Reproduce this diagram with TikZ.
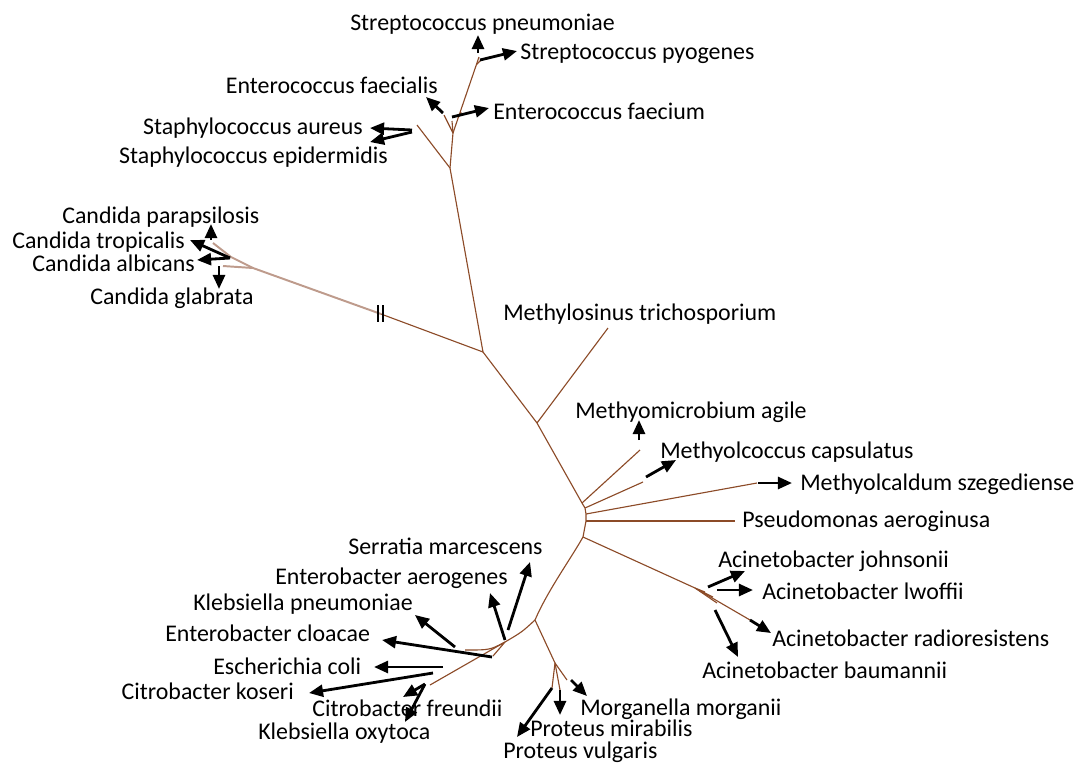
\documentclass[tikz,border=0pt]{standalone}
\usepackage{fontspec}
\setmainfont{Carlito}
\usetikzlibrary{calc,positioning,arrows.meta}
\definecolor{treebrown}{RGB}{140,75,40}
\definecolor{fadebrown}{RGB}{190,155,140}
\tikzset{
	>={Triangle[length=10pt,width=8.5pt]},
	branch/.style={draw=treebrown, line width=0.8pt},
	faded/.style={draw=fadebrown, line width=1.4pt},
	pointer/.style={->, line width=2pt, black},
	lbl/.style={inner sep=0pt, font=\fontsize{17}{20}\selectfont, text height=9pt, text depth=4.5pt, yshift=-2.4pt},
}

\begin{document}
\begin{tikzpicture}[x=0.025cm, y=-0.025cm]
	\useasboundingbox (0,0) rectangle (1080,765);

	% tree points
	\coordinate (sA) at (483,352);
	\coordinate (sB) at (450,168);
	\coordinate (sC) at (453,133);
	\coordinate (tSau) at (417,125);
	\coordinate (tEfs) at (444,115);
	\coordinate (tEfm) at (452,121);
	\coordinate (tEfm2) at (461,112);
	\coordinate (tStr) at (479,57);
	\coordinate (tStr2) at (482,59);
	\coordinate (cBr) at (381,314);
	\coordinate (cN) at (253,268);
	\coordinate (cN2) at (231,257);
	\coordinate (tCpa) at (213,243);
	\coordinate (tCgl) at (223,266);
	\coordinate (mA) at (537,423);
	\coordinate (tMtr) at (608,328);
	\coordinate (mR) at (582,503);
	\coordinate (mR2) at (585,508);
	\coordinate (mR3) at (586,514);
	\coordinate (mR4) at (586,521);
	\coordinate (mR5) at (583,537);
	\coordinate (tMag) at (640,450);
	\coordinate (tMca) at (643,482);
	\coordinate (tMsz) at (757,483);
	\coordinate (tPae) at (735,521);
	\coordinate (aN) at (695,588);
	\coordinate (tAra) at (750,620);
	\coordinate (eN) at (535,620);
	\coordinate (pN) at (555,663);
	\coordinate (tPvu) at (552,688);
	\coordinate (tPmi) at (560,690);
	\coordinate (tMmo) at (567,680);
	\coordinate (kN) at (505,642);
	\coordinate (tKa) at (465,650);
	\coordinate (tKb) at (493,656);
	\coordinate (tKc) at (430,685);

	% branches
	\draw[branch] (sA) -- (sB) -- (sC) -- (tStr);
	\draw[branch] ($(tStr)!0.1!(sC)$) -- (tStr2);
	\draw[branch] (sB) -- (tSau);
	\draw[branch] (sC) -- (tEfs);
	\draw[branch] (sC) -- (tEfm);
	\draw[branch] ($(sC)!0.2!(tStr)$) -- (tEfm2);
	\draw[branch] (sA) -- (cBr);
	\draw[faded] (cBr) -- (cN) -- (cN2) -- (tCpa);
	\draw[faded] (cN) -- (tCgl);
	\draw[thick] (378,305) -- (378,322) (383,305) -- (383,322);
	\draw[branch] (sA) -- (mA) -- (mR);
	\draw[branch] (mA) -- (tMtr);
	\draw[branch] (mR) -- (mR2) -- (mR3) -- (mR4) -- (mR5);
	\draw[branch] (mR) -- (tMag);
	\draw[branch] (mR2) -- (tMca);
	\draw[branch] (mR3) -- (tMsz);
	\draw[branch] (mR4) -- (tPae);
	\draw[branch] (mR5) -- (aN) -- (tAra);
	\draw[branch] (aN) -- (705,592) (aN) -- (713,597) (aN) -- (717,603);
	\draw[branch] (mR5) .. controls (570,560) and (548,590) .. (eN);
	\draw[branch] (eN) -- (pN) -- (tPmi);
	\draw[branch] (pN) -- (tPvu) (pN) -- (tMmo);
	\draw[branch] (eN) .. controls (522,632) .. (kN);
	\draw[branch] (kN) .. controls (490,650) .. (tKa);
	\draw[branch] (kN) -- (tKb) (kN) -- (tKc);

	% labels
	\node[lbl, anchor=east] (spn) at (615,24) {Streptococcus pneumoniae};
	\node[lbl, anchor=west] (spy) at (520,53) {Streptococcus pyogenes};
	\node[lbl, anchor=east] (efs) at (438,87) {Enterococcus faecialis};
	\node[lbl, anchor=west] (efm) at (493,113) {Enterococcus faecium};
	\node[lbl, anchor=east] (sau) at (363,128) {Staphylococcus aureus};
	\node[lbl, anchor=east] (sep) at (388,157) {Staphylococcus epidermidis};
	\node[lbl, anchor=west] (cpa) at (62,217) {Candida parapsilosis};
	\node[lbl, anchor=west] (ctr) at (12,242) {Candida tropicalis};
	\node[lbl, anchor=west] (cal) at (32,265) {Candida albicans};
	\node[lbl, anchor=west] (cgl) at (90,298) {Candida glabrata};
	\node[lbl, anchor=west] (mtr) at (503,314) {Methylosinus trichosporium};
	\node[lbl, anchor=west] (mag) at (575,412) {Methyomicrobium agile};
	\node[lbl, anchor=west] (mca) at (660,452) {Methyolcoccus capsulatus};
	\node[lbl, anchor=west] (msz) at (800,484) {Methyolcaldum szegediense};
	\node[lbl, anchor=west] (pae) at (742,521) {Pseudomonas aeroginusa};
	\node[lbl, anchor=west] (ajo) at (718,561) {Acinetobacter johnsonii};
	\node[lbl, anchor=west] (alw) at (762,593) {Acinetobacter lwoffii};
	\node[lbl, anchor=west] (ara) at (772,640) {Acinetobacter radioresistens};
	\node[lbl, anchor=west] (aba) at (702,672) {Acinetobacter baumannii};
	\node[lbl, anchor=west] (sma) at (348,548) {Serratia marcescens};
	\node[lbl, anchor=west] (eae) at (275,578) {Enterobacter aerogenes};
	\node[lbl, anchor=west] (kpn) at (193,604) {Klebsiella pneumoniae};
	\node[lbl, anchor=west] (ecl) at (165,635) {Enterobacter cloacae};
	\node[lbl, anchor=west] (eco) at (213,668) {Escherichia coli};
	\node[lbl, anchor=east] (cko) at (294,693) {Citrobacter koseri};
	\node[lbl, anchor=west] (cfr) at (312,710) {Citrobacter freundii};
	\node[lbl, anchor=west] (kox) at (258,733) {Klebsiella oxytoca};
	\node[lbl, anchor=west] (mmo) at (580,709) {Morganella morganii};
	\node[lbl, anchor=west] (pmi) at (530,730) {Proteus mirabilis};
	\node[lbl, anchor=west] (pvu) at (503,752) {Proteus vulgaris};

	% pointers
	\draw[pointer] (478,53) -- (478,35);
	\draw[pointer] (480,60) -- (517,51);
	\draw[pointer] (443,113) -- (426,97);
	\draw[pointer] (452,117) -- (489,108);
	\draw[pointer] (412,130) -- (370,128);
	\draw[pointer] (412,132) -- (370,142);
	\draw[pointer] (211,240) -- (211,224);
	\draw[pointer] (230,258) -- (190,240);
	\draw[pointer] (230,258) -- (197,260);
	\draw[pointer] (219,266) -- (219,289);
	\draw[pointer] (639,440) -- (639,420);
	\draw[pointer] (646,477) -- (676,460);
	\draw[pointer] (758,483) -- (792,483);
	\draw[pointer] (708,587) -- (745,571);
	\draw[pointer] (717,590) -- (753,590);
	\draw[pointer] (750,620) -- (771,633);
	\draw[pointer] (715,610) -- (738,657);
	\draw[pointer] (508,630) -- (530,562);
	\draw[pointer] (505,640) -- (490,593);
	\draw[pointer] (455,647) -- (415,615);
	\draw[pointer] (492,657) -- (382,640);
	\draw[pointer] (443,667) -- (374,667);
	\draw[pointer] (433,673) -- (309,693);
	\draw[pointer] (425,684) -- (403,697);
	\draw[pointer] (425,684) -- (405,722);
	\draw[pointer] (571,680) -- (587,696);
	\draw[pointer] (560,690) -- (560,715);
	\draw[pointer] (552,688) -- (517,737);
\end{tikzpicture}
\end{document}
